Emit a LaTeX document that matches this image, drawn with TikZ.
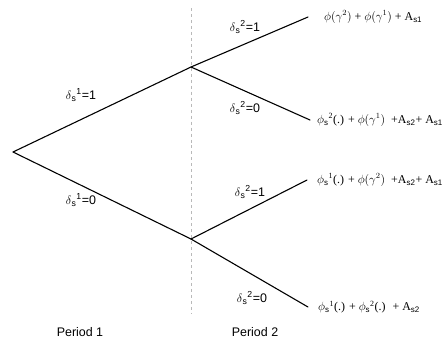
\documentclass[tikz,border=0pt]{standalone}
\usepackage{fontspec}
\setmainfont{Liberation Sans}
\setsansfont{Liberation Sans}
\newfontfamily\payofffont{Liberation Serif}
\usepackage{tikz}
\usetikzlibrary{positioning}
\newcommand{\ssub}[1]{\textsubscript{\sffamily #1}}

\begin{document}
\begin{tikzpicture}[
  x=1bp, y=-1bp,
  font=\fontsize{12.5}{14}\selectfont,
  branch/.style={line width=1.1pt, line cap=round},
  divider/.style={dashed, gray!55, thin},
  lbl/.style={inner sep=1pt},
  payoff/.style={anchor=west, inner sep=1pt, font=\fontsize{12}{14}\selectfont\payofffont}
]
  \useasboundingbox (0,0) rectangle (444,344);

  % Period divider
  \coordinate (divtop) at (191,8);
  \coordinate (divbot) at (191,314);
  \draw[divider] (divtop) -- (divbot);

  % Decision nodes
  \coordinate (root) at (13,152);
  \coordinate (up) at (191,67);
  \coordinate (down) at (191,239);

  % Terminal nodes
  \coordinate (uu) at (308,17);
  \coordinate (ud) at (310,120);
  \coordinate (du) at (307,180);
  \coordinate (dd) at (308,307);

  \draw[branch] (root) -- (up);
  \draw[branch] (root) -- (down);
  \draw[branch] (up) -- (uu);
  \draw[branch] (up) -- (ud);
  \draw[branch] (down) -- (du);
  \draw[branch] (down) -- (dd);

  % Branch labels
  \node[lbl] (l1) at (81,95) {$\delta$\textsubscript{s}\textsuperscript{1}=1};
  \node[lbl] (l0) at (81,200) {$\delta$\textsubscript{s}\textsuperscript{1}=0};
  \node[lbl] (l11) at (245,27) {$\delta$\textsubscript{s}\textsuperscript{2}=1};
  \node[lbl] (l10) at (245,108) {$\delta$\textsubscript{s}\textsuperscript{2}=0};
  \node[lbl] (l01) at (250,192) {$\delta$\textsubscript{s}\textsuperscript{2}=1};
  \node[lbl] (l00) at (252,298) {$\delta$\textsubscript{s}\textsuperscript{2}=0};

  % Payoffs
  \node[payoff, right=15bp of uu] (p11) {$\phi(\gamma^2)$ + $\phi(\gamma^1)$ + A\ssub{s1}};
  \node[payoff, right=6bp of ud] (p10) {$\phi$\ssub{s}\textsuperscript{2}(.) + $\phi(\gamma^1)$ \ +A\ssub{s2}+ A\ssub{s1}};
  \node[payoff, right=9bp of du] (p01) {$\phi$\ssub{s}\textsuperscript{1}(.) + $\phi(\gamma^2)$ \ +A\ssub{s2}+ A\ssub{s1}};
  \node[payoff, right=9bp of dd] (p00) {$\phi$\ssub{s}\textsuperscript{1}(.) + $\phi$\ssub{s}\textsuperscript{2}(.) \ + A\ssub{s2}};

  % Periods
  \node (per1) at (80,332) {Period 1};
  \node (per2) at (255,332) {Period 2};
\end{tikzpicture}
\end{document}
